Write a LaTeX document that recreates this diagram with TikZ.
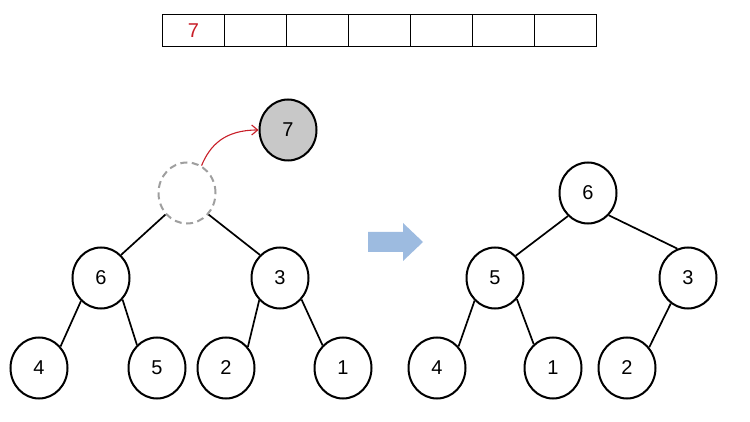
\documentclass[tikz,border=0pt]{standalone}
\usepackage{fontspec}
\setmainfont{Liberation Sans}
\usetikzlibrary{shapes.geometric,arrows.meta}
\definecolor{boxred}{RGB}{200,30,40}
\definecolor{nodegray}{RGB}{200,200,200}
\definecolor{arrowblue}{RGB}{157,187,224}
\begin{document}
\begin{tikzpicture}[x=1pt,y=-1pt,
  hnode/.style={draw=black,line width=2pt,ellipse,minimum width=57pt,minimum height=61pt,inner sep=0pt,font=\fontsize{20}{22}\selectfont},
  cellbox/.style={draw=black,line width=1.1pt,minimum width=62pt,minimum height=32pt,inner sep=0pt,anchor=north west,font=\fontsize{20}{22}\selectfont},
  edge/.style={line width=1.7pt}]
\useasboundingbox (0,0) rectangle (750,422);
% array
\foreach \i in {0,...,6} {
  \node[cellbox] (c\i) at ({162+62*\i},14) {};
}
\node[text=boxred,font=\fontsize{20}{22}\selectfont] (c0t) at (c0.center) {7};
% left tree
\node[hnode,draw=gray!75,dash pattern=on 7pt off 4.5pt] (r) at (187,193) {};
\node[hnode,fill=nodegray] (s) at (288,130) {7};
\node[hnode] (a) at (101,278) {6};
\node[hnode] (b) at (280,278) {3};
\node[hnode] (a1) at (39,368) {4};
\node[hnode] (a2) at (157,368) {5};
\node[hnode] (b1) at (226,368) {2};
\node[hnode] (b2) at (343,368) {1};
\draw[edge] (r.225) -- (a.49);
\draw[edge] (r.315) -- (b.131);
\draw[edge] (a.229) -- (a1.45);
\draw[edge] (a.315) -- (a2.131);
\draw[edge] (b.227) -- (b1.44);
\draw[edge] (b.315) -- (b2.132);
\draw[boxred,line width=1.1pt,-{Straight Barb[length=6pt,width=10pt]}] (r.62) .. controls (210,145) and (225,130) .. (s.west);
% arrow
\fill[arrowblue] (368,232) -- (403,232) -- (403,223) -- (423,242) -- (403,261) -- (403,252) -- (368,252) -- cycle;
% right tree
\node[hnode] (R) at (588,193) {6};
\node[hnode] (A) at (495,278) {5};
\node[hnode] (B) at (688,278) {3};
\node[hnode] (A1) at (437,368) {4};
\node[hnode] (A2) at (553,368) {1};
\node[hnode] (B1) at (627,368) {2};
\draw[edge] (R.229) -- (A.47);
\draw[edge] (R.313) -- (B.110);
\draw[edge] (A.228) -- (A1.45);
\draw[edge] (A.316) -- (A2.129);
\draw[edge] (B.236) -- (B1.43);
\end{tikzpicture}
\end{document}
